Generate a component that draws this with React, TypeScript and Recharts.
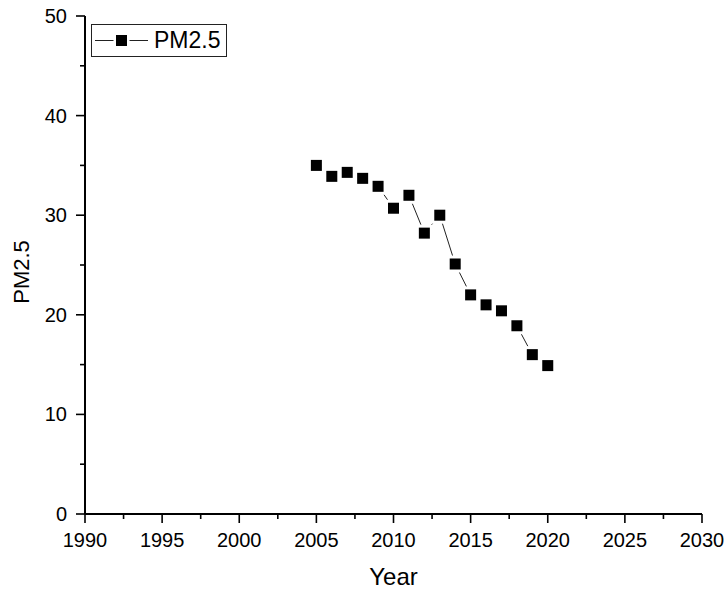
import { LineChart, Line, XAxis, YAxis, Legend } from "recharts";

const years = [2005, 2006, 2007, 2008, 2009, 2010, 2011, 2012, 2013, 2014, 2015, 2016, 2017, 2018, 2019, 2020];
const pm25 = [35.0, 33.9, 34.3, 33.7, 32.9, 30.7, 32.0, 28.2, 30.0, 25.1, 22.0, 21.0, 20.4, 18.9, 16.0, 14.9];

// major + minor ticks (Origin style)
const xTicks = [1990, 1992.5, 1995, 1997.5, 2000, 2002.5, 2005, 2007.5, 2010, 2012.5, 2015, 2017.5, 2020, 2022.5, 2025, 2027.5, 2030];
const yTicks = [0, 5, 10, 15, 20, 25, 30, 35, 40, 45, 50];
const xLabels = [1990, 1995, 2000, 2005, 2010, 2015, 2020, 2025, 2030];
const yLabels = [0, 10, 20, 30, 40, 50];

const data = years.map((year, i) => ({ year, pm25: pm25[i] }));

const FONT = "Arial, 'Liberation Sans', sans-serif";

const XTick = (props: any) => {
  const { x, y, payload } = props;
  const major = xLabels.includes(payload.value);
  return (
    <g>
      <line x1={x} y1={y} x2={x} y2={y + (major ? 9 : 5)} stroke="#000" strokeWidth={1.6} />
      {major && (
        <text x={x} y={y + 33} textAnchor="middle" fontSize={20} fontFamily={FONT} fill="#000">
          {payload.value}
        </text>
      )}
    </g>
  );
};

const YTick = (props: any) => {
  const { x, y, payload } = props;
  const major = yLabels.includes(payload.value);
  return (
    <g>
      <line x1={x} y1={y} x2={x - (major ? 9 : 5)} y2={y} stroke="#000" strokeWidth={1.6} />
      {major && (
        <text x={x - 18} y={y + 7} textAnchor="end" fontSize={20} fontFamily={FONT} fill="#000">
          {payload.value}
        </text>
      )}
    </g>
  );
};

const YLabel = (props: any) => {
  const vb = props.viewBox || { x: 0, y: 16, width: 85, height: 498 };
  const cx = 21;
  const cy = vb.y + vb.height / 2 + 7;
  return (
    <text
      x={cx}
      y={cy}
      transform={`rotate(-90, ${cx}, ${cy})`}
      textAnchor="middle"
      dominantBaseline="central"
      fontSize={22}
      fontFamily={FONT}
      fill="#000"
    >
      PM2.5
    </text>
  );
};

const SquareDot = (props: any) => {
  const { cx, cy, index } = props;
  if (cx == null || cy == null) return null;
  return (
    <g key={index}>
      <rect x={cx - 8.5} y={cy - 8.5} width={17} height={17} fill="#fff" />
      <rect x={cx - 5.5} y={cy - 5.5} width={11} height={11} fill="#000" />
    </g>
  );
};

const LegendBox = () => (
  <div
    style={{
      border: "1px solid #222",
      width: 134,
      height: 31,
      display: "flex",
      alignItems: "center",
      background: "#fff",
      boxSizing: "content-box",
    }}
  >
    <svg width={62} height={31}>
      <line x1={3} y1={15.5} x2={56} y2={15.5} stroke="#222" strokeWidth={1} />
      <rect x={21.5} y={7.5} width={16} height={16} fill="#fff" />
      <rect x={24} y={10} width={11} height={11} fill="#000" />
    </svg>
    <span style={{ fontSize: 23, fontFamily: FONT, color: "#000", lineHeight: "31px" }}>PM2.5</span>
  </div>
);

export default function App() {
  return (
    <div style={{ position: "absolute", left: 0, top: 0, background: "#fff" }}>
      <LineChart width={727} height={593} data={data} margin={{ top: 16, right: 25, bottom: 0, left: 0 }}>
        <XAxis
          type="number"
          dataKey="year"
          domain={[1990, 2030]}
          ticks={xTicks}
          interval={0}
          tickSize={0}
          tickMargin={0}
          tickLine={false}
          tick={<XTick />}
          axisLine={{ stroke: "#000", strokeWidth: 2 }}
          height={79}
          label={{ value: "Year", position: "insideBottom", offset: 8, fontSize: 24, fontFamily: FONT, fill: "#000" }}
        />
        <YAxis
          type="number"
          domain={[0, 50]}
          ticks={yTicks}
          interval={0}
          tickSize={0}
          tickMargin={0}
          tickLine={false}
          tick={<YTick />}
          axisLine={{ stroke: "#000", strokeWidth: 2 }}
          width={85}
          label={<YLabel />}
        />
        <Legend
          layout="horizontal"
          verticalAlign="middle"
          align="center"
          content={() => <LegendBox />}
          wrapperStyle={{ left: 91, top: 24, width: "auto", height: "auto" }}
        />
        <Line
          type="linear"
          dataKey="pm25"
          name="PM2.5"
          stroke="#222"
          strokeWidth={1}
          dot={<SquareDot />}
          activeDot={false}
          isAnimationActive={false}
        />
      </LineChart>
    </div>
  );
}
